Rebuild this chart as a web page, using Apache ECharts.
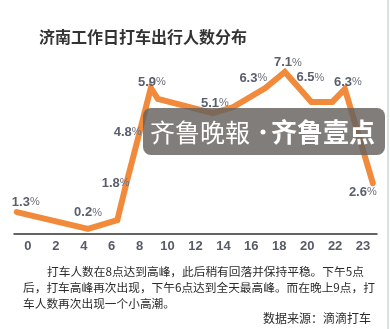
<!DOCTYPE html>
<html>
<head>
<meta charset="utf-8">
<script src="https://cdn.jsdelivr.net/npm/echarts@6/dist/echarts.min.js"></script>
<style>
html,body{margin:0;padding:0;background:#fff;}
#c{width:390px;height:329px;}
</style>
</head>
<body>
<div id="c"></div>
<script>
// tick labels of the hour axis
var hourLabels = ['0','2','4','6','8','10','12','14','16','18','20','22','23'];
// line vertices: horizontal position in hours (label "23" sits at slot 24) and drawn level
var hours  = [-0.8, 4.3, 6.4, 7.0, 8.0, 8.8, 9.3, 13.25, 14.7, 17.0, 18.4, 20.3, 21.8, 22.7, 24.7];
var levels = [0.90, 0.21, 0.57, 1.97, 4.18, 5.99, 5.54, 4.96, 5.21, 5.99, 6.65, 5.42, 5.42, 5.95, 2.09];
// printed percentage labels (empty = none)
var labelTexts = ['1.3','0.2','','1.8','4.8','5.9','','5.1','','6.3','7.1','6.5','','6.3','2.6'];
// label placement relative to the vertex (layout only)
var labelOffsets = [[9,-10],[0,-16],[0,0],[-10,-3],[-12,0],[1,-6],[0,0],[2,-10],[0,0],[-12,-10],[3,-9],[-1,-24],[0,0],[3,-7],[-10,9]];

var title = '济南工作日打车出行人数分布';
var noteLines = [
  '打车人数在8点达到高峰，此后稍有回落并保持平稳。下午5点',
  '后，打车高峰再次出现，下午6点达到全天最高峰。而在晚上9点，打',
  '车人数再次出现一个小高潮。'
];
var source = '数据来源：滴滴打车';

var seriesData = hours.map(function (h, i) {
  var item = { value: [h, levels[i]] };
  if (labelTexts[i]) {
    item.label = {
      show: true,
      position: 'inside',
      offset: labelOffsets[i],
      formatter: '{n|' + labelTexts[i] + '}{p|%}'
    };
  } else {
    item.label = { show: false };
  }
  return item;
});

var chart = echarts.init(document.getElementById('c'), null, { renderer: 'canvas' });
chart.setOption({
  backgroundColor: '#ffffff',
  animation: false,
  title: {
    text: title,
    left: 34,
    top: 24,
    textStyle: { fontSize: 16, fontWeight: 'bold', color: '#333333', fontFamily: 'Noto Sans CJK SC' }
  },
  grid: { left: 14, right: 13, top: 39, bottom: 95 },
  xAxis: [
    {
      type: 'category',
      data: hourLabels,
      boundaryGap: true,
      axisTick: { show: false },
      axisLine: { lineStyle: { color: '#333333', width: 1.5 } },
      axisLabel: { margin: 6, fontSize: 13, fontWeight: 'bold', color: '#565b66', fontFamily: 'Liberation Sans Narrow, Liberation Sans' },
      splitLine: { show: false }
    },
    { type: 'value', min: -1, max: 25, show: false }
  ],
  yAxis: { type: 'value', min: 0, max: 8, show: false },
  series: [{
    type: 'line',
    xAxisIndex: 1,
    data: seriesData,
    symbol: 'circle',
    symbolSize: 1,
    itemStyle: { color: 'rgba(0,0,0,0)' },
    lineStyle: { color: '#f28a3b', width: 6, join: 'miter', cap: 'round' },
    label: {
      align: 'center',
      verticalAlign: 'middle',
      rich: {
        n: { fontSize: 13, fontWeight: 'bold', color: '#5a5f6d', fontFamily: 'Liberation Sans' },
        p: { fontSize: 11, color: '#6b7080', fontFamily: 'Liberation Sans' }
      }
    },
    z: 2
  }],
  graphic: [
    { type: 'rect', shape: { x: 143, y: 108, width: 242, height: 47, r: 8 }, style: { fill: 'rgba(100,96,94,0.82)' }, z: 100 },
    { type: 'text', x: 150, y: 132, style: { text: '齐鲁晚報', font: '25px "Noto Sans CJK SC"', fill: '#ffffff', textVerticalAlign: 'middle' }, z: 101 },
    { type: 'circle', shape: { cx: 263, cy: 132, r: 2.5 }, style: { fill: '#ffffff' }, z: 101 },
    { type: 'text', x: 271, y: 132, style: { text: '齐鲁壹点', font: 'bold 26px "Noto Sans CJK SC"', fill: '#ffffff', textVerticalAlign: 'middle' }, z: 101 },
    { type: 'text', x: 47, y: 272, style: { text: noteLines[0], font: '11.7px "Noto Sans CJK SC"', fill: '#2b2b2b', textVerticalAlign: 'middle' }, z: 50 },
    { type: 'text', x: 23, y: 288, style: { text: noteLines[1], font: '11.7px "Noto Sans CJK SC"', fill: '#2b2b2b', textVerticalAlign: 'middle' }, z: 50 },
    { type: 'text', x: 23, y: 304, style: { text: noteLines[2], font: '11.7px "Noto Sans CJK SC"', fill: '#2b2b2b', textVerticalAlign: 'middle' }, z: 50 },
    { type: 'text', x: 371, y: 318, style: { text: source, font: '12px "Noto Sans CJK SC"', fill: '#2b2b2b', textAlign: 'right', textVerticalAlign: 'middle' }, z: 50 },
    { type: 'line', shape: { x1: 388, y1: 0, x2: 388, y2: 329 }, style: { stroke: '#d3e7df', lineWidth: 2 }, z: 50 }
  ]
});
</script>
</body>
</html>
